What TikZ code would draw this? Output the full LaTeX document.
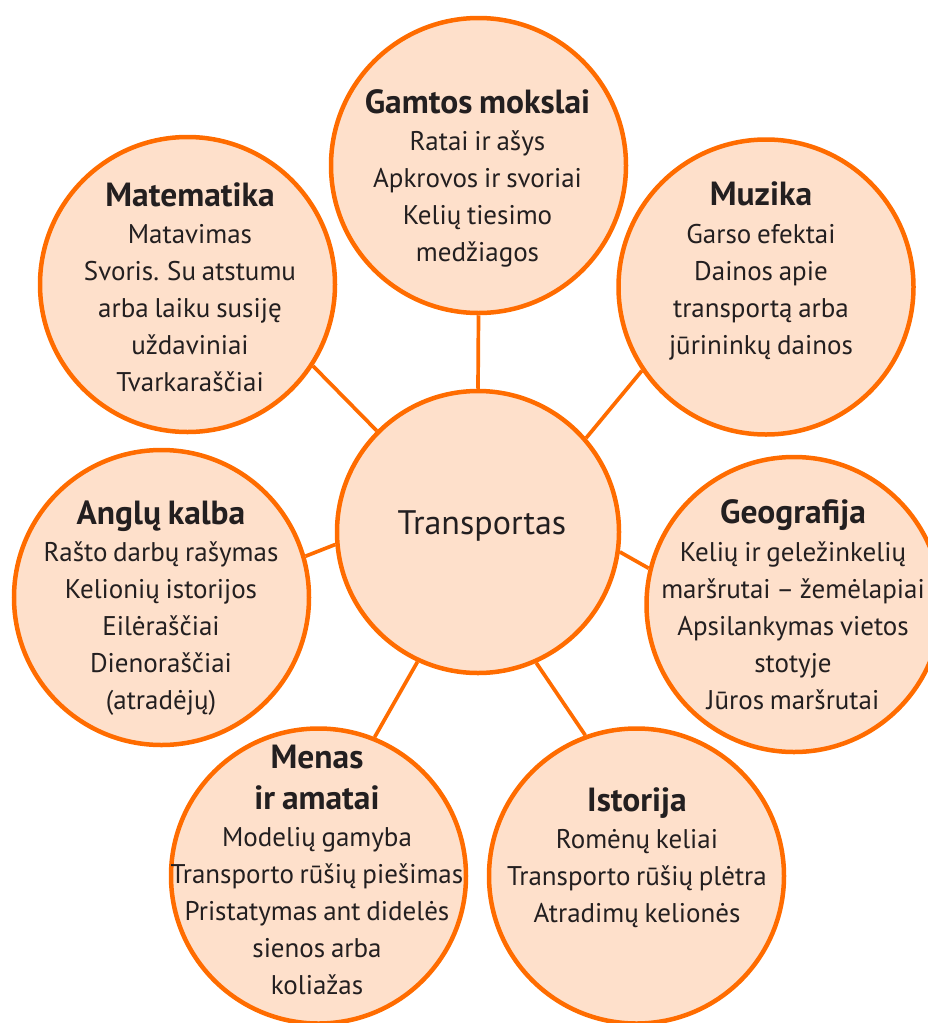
\documentclass[tikz,border=0pt]{standalone}
\usepackage{fontspec}
\setmainfont[WordSpace=0.8]{PT Sans}
\usetikzlibrary{backgrounds}
\definecolor{orng}{HTML}{FF6C00}
\definecolor{peach}{HTML}{FEE0CB}
\definecolor{ink}{HTML}{231F20}
\begin{document}
\begin{tikzpicture}[x=1pt,y=-1pt,
  bub/.style={circle,draw=orng,fill=peach,line width=4.5pt,minimum size=295pt,inner sep=0pt},
  hub/.style={bub,minimum size=282pt},
  link/.style={draw=orng,line width=3.7pt},
  ttl/.style={font=\bfseries\fontsize{33.5}{41}\selectfont,text=ink,align=center,anchor=base,inner sep=0pt},
  txt/.style={font=\fontsize{27}{37}\selectfont,text=ink,align=center,anchor=base,inner sep=0pt},
  hubtxt/.style={font=\fontsize{34}{37}\selectfont,text=ink,anchor=base,inner sep=0pt}]
\useasboundingbox (0,0) rectangle (928,1023);
\begin{scope}
\clip (0,0) rectangle (928,1023);
\node[hub] (T) at (478,532) {};
\node[bub] (G) at (478.5,165.5) {};
\node[bub] (Mat) at (187.5,284.5) {};
\node[bub] (Muz) at (766,287) {};
\node[bub] (A) at (161.5,597.5) {};
\node[bub] (Geo) at (794,604.5) {};
\node[bub] (Men) at (318.5,876) {};
\node[bub] (Ist) at (636.5,876) {};
\end{scope}
\begin{pgfonlayer}{background}
\draw[link] (T.135.9) -- (Mat.-33.8);
\draw[link] (T.90) -- (G.270);
\draw[link] (T.41.3) -- (Muz.214.4);
\draw[link] (T.185.7) -- (A.16);
\draw[link] (T.-8) -- (Geo.166);
\draw[link] (T.245) -- (Men.68.8);
\draw[link] (T.-66) -- (Ist.110.6);
\end{pgfonlayer}
\node[hubtxt] (Tt) at (482,534) {Transportas};
\node[ttl] (Gt) at (477.5,113) {Gamtos mokslai};
\node[txt] (Gb) at (477.5,261) {Ratai ir ašys\\Apkrovos ir svoriai\\Kelių tiesimo\\medžiagos};
\node[ttl] (Matt) at (190,206) {Matematika};
\node[txt] (Matb) at (190,391) {Matavimas\\Svoris. Su atstumu\\arba laiku susiję\\uždaviniai\\Tvarkaraščiai};
\node[ttl] (Muzt) at (761,205) {Muzika};
\node[txt] (Muzb) at (761,354) {Garso efektai\\Dainos apie\\transportą arba\\jūrininkų dainos};
\node[ttl] (At) at (161,524) {Anglų kalba};
\node[txt] (Ab) at (161,709) {Rašto darbų rašymas\\Kelionių istorijos\\Eilėraščiai\\Dienoraščiai\\(atradėjų)};
\node[ttl] (Geot) at (793,523) {Geografija};
\node[txt] (Geob) at (793,709) {Kelių ir geležinkelių\\maršrutai – žemėlapiai\\Apsilankymas vietos\\stotyje\\Jūros maršrutai};
\node[ttl] (Ment) at (317,809) {Menas\\ir amatai};
\node[txt] (Menb) at (317,994) {Modelių gamyba\\Transporto rūšių piešimas\\Pristatymas ant didelės\\sienos arba\\koliažas};
\node[ttl] (Istt) at (637,811) {Istorija};
\node[txt] (Istb) at (637,922) {Romėnų keliai\\Transporto rūšių plėtra\\Atradimų kelionės};
\end{tikzpicture}
\end{document}
